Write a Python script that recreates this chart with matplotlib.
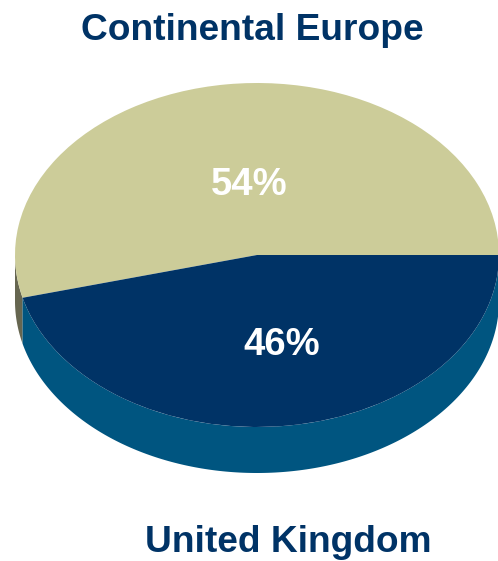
import numpy as np
import matplotlib
matplotlib.use('Agg')
import matplotlib.pyplot as plt

W, H = 498, 561

regions = ['Continental Europe', 'United Kingdom']
shares = [54, 46]
top_colors = ['#CCCC99', '#003366']
side_colors = ['#666650', '#005580']

# ellipse geometry in pixels
cx, cy, rx, ry = 257, 255, 242, 172
depth = 46 / ry

plt.rcParams['font.family'] = ['Liberation Sans', 'DejaVu Sans']
fig = plt.figure(figsize=(W / 100, H / 100), dpi=100)
ax = fig.add_axes([0, 0, 1, 1])


def side_band(a0, a1, color):
    t = np.radians(np.linspace(a0, a1, 200))
    xs = np.concatenate([np.cos(t), np.cos(t[::-1])])
    ys = np.concatenate([np.sin(t), np.sin(t[::-1]) - depth])
    ax.fill(xs, ys, color=color, lw=0, zorder=1)


# extruded rim, only the part facing down is visible
edges = np.cumsum([0] + shares) * 3.6
side_band(180, edges[1], side_colors[0])
side_band(edges[1], edges[2], side_colors[1])

wedges, _ = ax.pie(shares, colors=top_colors, startangle=0, counterclock=True,
                   radius=1, center=(0, 0), wedgeprops={'lw': 0})
for w in wedges:
    w.set_zorder(2)

ax.set_aspect('auto')
ax.set_xlim(-cx / rx, (W - cx) / rx)
ax.set_ylim((cy - H) / ry, cy / ry)
ax.axis('off')


def px_text(x, y, s, color, size):
    fig.text(x / W, 1 - y / H, s, color=color, fontsize=size, fontweight='bold',
             ha='center', va='center')


px_text(252.5, 30, regions[0], '#003366', 26.7)
px_text(288.5, 542, regions[1], '#003366', 26.7)
px_text(249.5, 185, f'{shares[0]}%', 'white', 27.5)
px_text(281.5, 345, f'{shares[1]}%', 'white', 27.5)

fig.savefig('out.png', dpi=100)
